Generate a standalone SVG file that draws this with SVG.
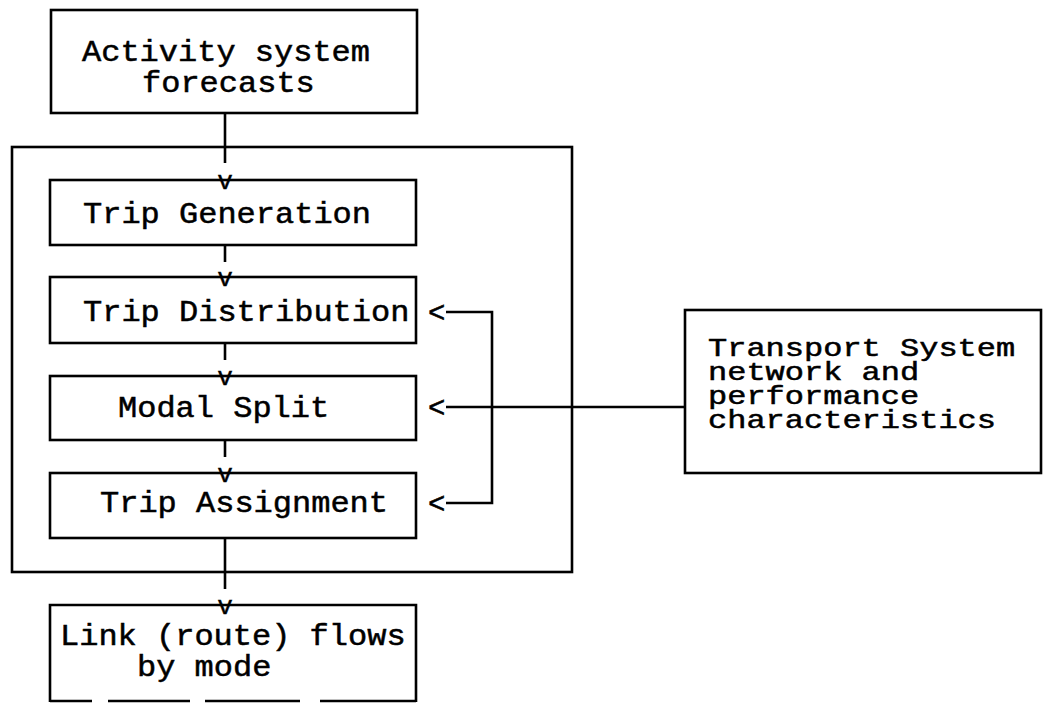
<svg xmlns="http://www.w3.org/2000/svg" width="1046" height="703" viewBox="0 0 1046 703">
<style>
.box{fill:none;stroke:#000;stroke-width:2.6}
.ln{fill:none;stroke:#000;stroke-width:2.6}
.t{font-family:"Liberation Mono","Courier New",monospace;font-size:29px;fill:#000;stroke:#000;stroke-width:0.5}
.ts{font-size:25px}
.v{font-family:"Liberation Mono","Courier New",monospace;font-size:26px;fill:#000;stroke:#000;stroke-width:0.4;text-anchor:middle}
</style>
<rect width="1046" height="703" fill="#fff"/>
<g id="connectors">
<path class="ln" d="M225,113 V163"/>
<path class="ln" d="M225,245 V262"/>
<path class="ln" d="M225,343 V360"/>
<path class="ln" d="M225,440 V457"/>
<path class="ln" d="M225,538 V589"/>
<path class="ln" d="M446,312 H492 V503 H446"/>
<path class="ln" d="M446,407 H685"/>
<text class="v" x="225" y="189">v</text>
<text class="v" x="225" y="286">v</text>
<text class="v" x="225" y="385">v</text>
<text class="v" x="225" y="482">v</text>
<text class="v" x="225" y="614">v</text>
<text class="t" x="428" y="322">&lt;</text>
<text class="t" x="428" y="417">&lt;</text>
<text class="t" x="428" y="513">&lt;</text>
</g>
<g id="activity">
<rect class="box" x="51" y="10" width="366" height="103"/>
<text class="t" x="82" y="61" textLength="288" lengthAdjust="spacingAndGlyphs">Activity system</text>
<text class="t" x="142" y="92" textLength="172.8" lengthAdjust="spacingAndGlyphs">forecasts</text>
</g>
<g id="outer">
<rect class="box" x="12" y="147" width="560" height="425"/>
</g>
<g id="trip-generation">
<rect class="box" x="50" y="180" width="366" height="65"/>
<text class="t" x="83" y="223" textLength="288" lengthAdjust="spacingAndGlyphs">Trip Generation</text>
</g>
<g id="trip-distribution">
<rect class="box" x="50" y="277" width="366" height="66"/>
<text class="t" x="83" y="321" textLength="326.4" lengthAdjust="spacingAndGlyphs">Trip Distribution</text>
</g>
<g id="modal-split">
<rect class="box" x="50" y="376" width="366" height="64"/>
<text class="t" x="118" y="417" textLength="211.2" lengthAdjust="spacingAndGlyphs">Modal Split</text>
</g>
<g id="trip-assignment">
<rect class="box" x="50" y="473" width="366" height="65"/>
<text class="t" x="100" y="512" textLength="288" lengthAdjust="spacingAndGlyphs">Trip Assignment</text>
</g>
<g id="link-flows">
<path class="box" d="M50,702 V605 H416 V702"/>
<path class="ln" d="M50,701 H92 M108,701 H190 M205,701 H300 M320,701 H416"/>
<text class="t" x="60" y="645" textLength="345.6" lengthAdjust="spacingAndGlyphs">Link (route) flows</text>
<text class="t" x="137" y="676" textLength="134.4" lengthAdjust="spacingAndGlyphs">by mode</text>
</g>
<g id="transport">
<rect class="box" x="685" y="310" width="356" height="163"/>
<text class="t ts" x="708" y="356" textLength="307.2" lengthAdjust="spacingAndGlyphs">Transport System</text>
<text class="t ts" x="708" y="380" textLength="211.2" lengthAdjust="spacingAndGlyphs">network and</text>
<text class="t ts" x="708" y="404" textLength="211.2" lengthAdjust="spacingAndGlyphs">performance</text>
<text class="t ts" x="708" y="428" textLength="288" lengthAdjust="spacingAndGlyphs">characteristics</text>
</g>
</svg>
